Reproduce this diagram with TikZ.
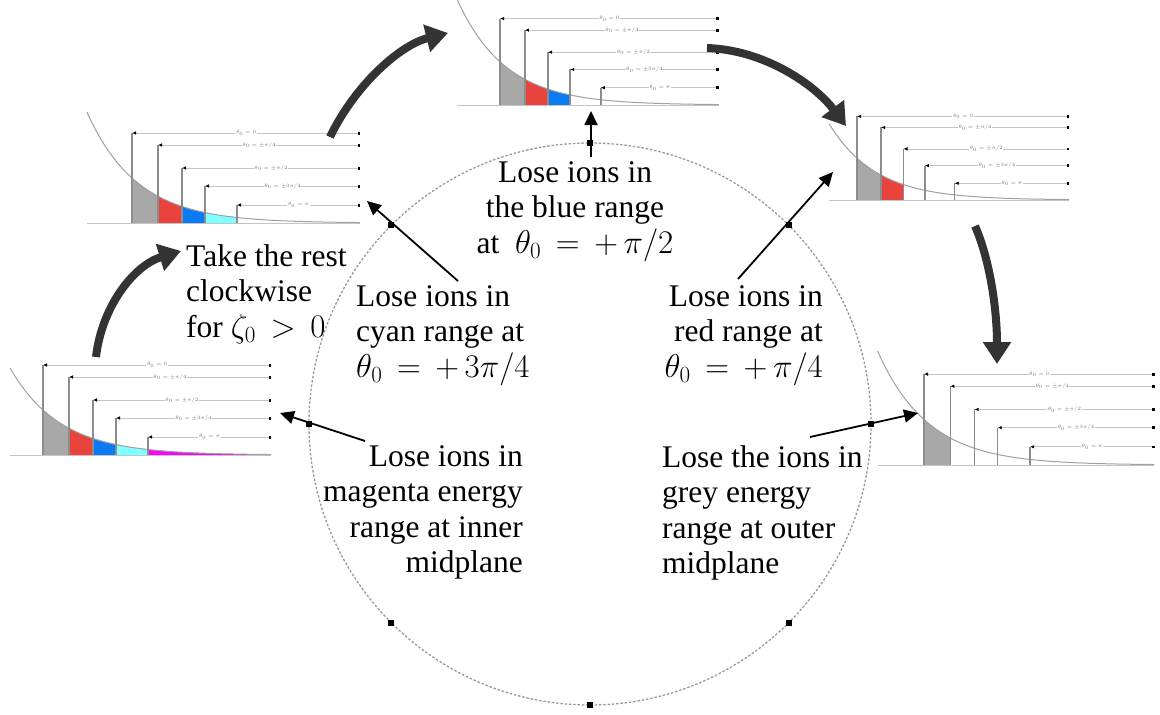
\RequirePackage{fix-cm}
\documentclass[tikz,border=0pt]{standalone}
\usepackage{fontspec}
\setmainfont{Liberation Serif}
\usetikzlibrary{arrows.meta}
\definecolor{fgrey}{HTML}{A8A8A8}
\definecolor{fred}{HTML}{E8433C}
\definecolor{fblue}{HTML}{0A7AF5}
\definecolor{fcyan}{HTML}{7FFFFF}
\definecolor{fmag}{HTML}{FF00FF}
\definecolor{bigarrow}{HTML}{333333}
\definecolor{circ}{HTML}{9A9A9A}
\definecolor{vgrey}{HTML}{8C8C8C}
\definecolor{dgrey}{HTML}{C4C4C4}
\definecolor{labgrey}{HTML}{707070}
\definecolor{curvec}{HTML}{A0A0A0}

\newcommand\ionfill[3]{\fill[#1] (#2,0) -- plot[domain=#2:#3,samples=16] (\x,{45*exp(-\x/50)}) -- (#3,0) -- cycle;}
\newcommand\bigmath[1]{{\fontsize{33}{35.5}\selectfont$\thickmuskip=8mu #1$}}

% #1 x0, #2 y0 (axis), #3 scale, #4 left offset, #5 number of fills, #6 name prefix
\newcommand\ionchart[6]{%
\begin{scope}[shift={(#1,#2)},x=#3pt,y=#3pt]
  \ifnum#5>0 \ionfill{fgrey}{0}{26}\fi
  \ifnum#5>1 \ionfill{fred}{26}{50}\fi
  \ifnum#5>2 \ionfill{fblue}{50}{73}\fi
  \ifnum#5>3 \ionfill{fcyan}{73}{105}\fi
  \ifnum#5>4 \ionfill{fmag}{105}{228}\fi
  \draw[draw=dgrey, line width=0.8pt] (#4,0) -- (228,0);
  \draw[draw=curvec, line width=1pt] plot[domain=#4:228,samples=70] (\x,{45*exp(-\x/50)});
  \foreach \u/\h/\lab in {0/90/{$\theta_0=0$},26/78/{$\theta_0=\pm\pi/4$},50/55/{$\theta_0=\pm\pi/2$},73/37/{$\theta_0=\pm3\pi/4$},105/18/{$\theta_0=\pi$}}{
    \draw[vline] (\u,0) -- (\u,\h);
    \draw[dimline] (\u,\h) -- node[dimlab] (#6l\u) {\lab} (228,\h);
  }
\end{scope}}

\begin{document}
\begin{tikzpicture}[x=1pt,y=-1pt,
  lbl/.style={font=\fontsize{31.5}{35.5}\selectfont, inner sep=0pt},
  thinarrow/.style={line width=1.8pt, -{Triangle[length=14pt,width=13pt]}},
  bigarr/.style={line width=8pt, draw=bigarrow, -{Triangle[length=22pt,width=27pt]}},
  marker/.style={fill=black, minimum size=6pt, inner sep=0pt, rectangle},
  vline/.style={draw=vgrey, line width=1.5pt},
  dimline/.style={draw=dgrey, line width=0.7pt, {Latex[length=4pt,width=3.5pt,color=black]}-{Square[length=2.5pt,width=2.5pt,color=black]}},
  dimlab/.style={font=\fontsize{5}{5}\selectfont, text=labgrey, fill=white, inner sep=0.6pt}]
\useasboundingbox (0,0) rectangle (1160,715);
\fill[white] (0,0) rectangle (1160,715);

% orbit circle
\draw[circ, line width=1.3pt, dash pattern=on 2.5pt off 1.8pt] (590,424) circle[radius=281];

% charts
\ionchart{43}{455}{1}{-33}{5}{ca}
\ionchart{132}{223}{1}{-45}{4}{cb}
\ionchart{500}{105}{0.96}{-45}{3}{cc}
\ionchart{857}{200}{0.93}{-30}{2}{cd}
\ionchart{924}{465}{1.01}{-46}{1}{ce}

% big curved arrows
\coordinate (a1s) at (96,357); \coordinate (a1t) at (181,251);
\coordinate (a2s) at (330,137); \coordinate (a2t) at (448,33);
\coordinate (a3s) at (707,48);  \coordinate (a3t) at (846,126);
\coordinate (a4s) at (975,226); \coordinate (a4t) at (997,364);
\draw[bigarr] (a1s) .. controls (102,305) and (135,265) .. (a1t);
\draw[bigarr] (a2s) .. controls (355,85) and (400,45) .. (a2t);
\draw[bigarr] (a3s) .. controls (765,50) and (815,85) .. (a3t);
\draw[bigarr] (a4s) .. controls (990,260) and (997,310) .. (a4t);

% thin arrows
\coordinate (tbs) at (591,157); \coordinate (tbt) at (591,111);
\coordinate (tcs) at (458,281); \coordinate (tct) at (367,201);
\coordinate (trs) at (738,279); \coordinate (trt) at (833,172);
\coordinate (tms) at (365,441); \coordinate (tmt) at (280,413);
\coordinate (tgs) at (810,437); \coordinate (tgt) at (918,413);
\draw[thinarrow] (tbs) -- (tbt);
\draw[thinarrow] (tcs) -- (tct);
\draw[thinarrow] (trs) -- (trt);
\draw[thinarrow] (tms) -- (tmt);
\draw[thinarrow] (tgs) -- (tgt);

% markers on the circle
\node[marker] (m0) at (590,143) {};
\node[marker] (m1) at (788.7,225.3) {};
\node[marker] (m2) at (871,424) {};
\node[marker] (m3) at (788.7,622.7) {};
\node[marker] (m4) at (590,705) {};
\node[marker] (m5) at (391.3,622.7) {};
\node[marker] (m6) at (309,424) {};
\node[marker] (m7) at (391.3,225.3) {};

% labels
\node[lbl, anchor=north west, align=left] (take) at (186,244) {Take the rest\\clockwise\\for \bigmath{\zeta_0>0}};
\node[lbl, anchor=north west, align=left] (cyan) at (356,285) {Lose ions in\\cyan range at\\\bigmath{\theta_0=+\,3\pi/4}};
\node[lbl, anchor=north, align=center] (blue) at (575,161) {Lose ions in\\the blue range\\at~ \bigmath{\theta_0=+\,\pi/2}};
\node[lbl, anchor=north east, align=right] (red) at (823,285) {Lose ions in\\red range at\\\bigmath{\theta_0=+\,\pi/4}};
\node[lbl, anchor=north east, align=right] (mag) at (523,445) {Lose ions in\\magenta energy\\range at inner\\midplane};
\node[lbl, anchor=north west, align=left] (grey) at (662,445) {Lose the ions in\\grey energy\\range at outer\\midplane};
\end{tikzpicture}
\end{document}
